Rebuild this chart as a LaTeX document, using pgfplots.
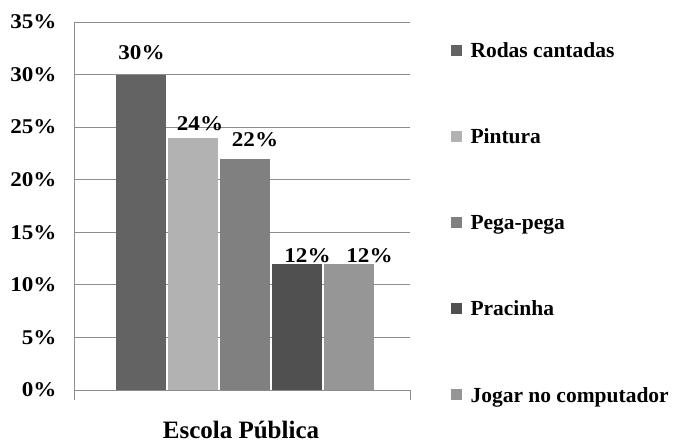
\documentclass[border=0pt]{standalone}
\usepackage{pgfplots}
\pgfplotsset{compat=1.18}
\usepackage{fontspec}
\setmainfont{Liberation Serif}
\newfontfamily\widefont[FakeStretch=1.1]{Liberation Serif}
\definecolor{gridgray}{RGB}{140,140,140}
\definecolor{cA}{RGB}{99,99,99}
\definecolor{cB}{RGB}{178,178,178}
\definecolor{cC}{RGB}{128,128,128}
\definecolor{cD}{RGB}{80,80,80}
\definecolor{cE}{RGB}{150,150,150}
\newcommand{\tf}{\bfseries\fontsize{21.5bp}{25bp}\selectfont}
\newcommand{\nf}{\widefont\bfseries\fontsize{21bp}{25bp}\selectfont}
\begin{document}
\begin{tikzpicture}
\useasboundingbox (0,0) rectangle (673bp,443bp);
\begin{axis}[
  at={(74bp,53bp)}, anchor=south west,
  scale only axis, width=336bp, height=368bp,
  xmin=0, xmax=336, ymin=0, ymax=35,
  axis y line*=left, axis x line*=bottom,
  axis line style={gridgray, line width=0.8bp},
  ybar=2bp, bar width=50,
  xtick={0,336}, xticklabels={,},
  tick align=outside,
  major tick length=10bp,
  xtick style={gridgray, line width=0.8bp},
  ytick={0,5,...,35},
  ytick style={draw=none},
  yticklabel={\pgfmathprintnumber{\tick}\%},
  yticklabel style={font=\nf, xshift=-4bp},
  /pgf/number format/assume math mode=true,
  ymajorgrids, grid style={gridgray, line width=0.8bp},
  xlabel={Escola Pública},
  xlabel style={font=\bfseries\fontsize{25bp}{29bp}\selectfont, at={(axis description cs:0.497,-0.108)}, anchor=center},
  nodes near coords={\pgfmathprintnumber{\pgfplotspointmeta}\%},
  nodes near coords style={font=\nf, anchor=center},
  legend image code/.code={\fill[#1] (0bp,-5bp) rectangle (11bp,6bp); \path (18bp,0bp);},
  legend cell align=left,
  legend style={at={(axis description cs:1.12,0.4538)}, anchor=west, draw=none, fill=none, font=\tf, row sep=66bp, inner sep=0pt},
]
\addplot[fill=cA, draw=none, every node near coord/.append style={xshift=1bp, yshift=22bp}] coordinates {(170.5,30)};
\addplot[fill=cB, draw=none, every node near coord/.append style={xshift=7.5bp, yshift=14bp}] coordinates {(170.5,24)};
\addplot[fill=cC, draw=none, every node near coord/.append style={xshift=10.5bp, yshift=19bp}] coordinates {(170.5,22)};
\addplot[fill=cD, draw=none, every node near coord/.append style={xshift=11bp, yshift=8bp}] coordinates {(170.5,12)};
\addplot[fill=cE, draw=none, every node near coord/.append style={xshift=21bp, yshift=8bp}] coordinates {(170.5,12)};
\legend{Rodas cantadas, Pintura, Pega-pega, Pracinha, Jogar no computador}
\end{axis}
\end{tikzpicture}
\end{document}
